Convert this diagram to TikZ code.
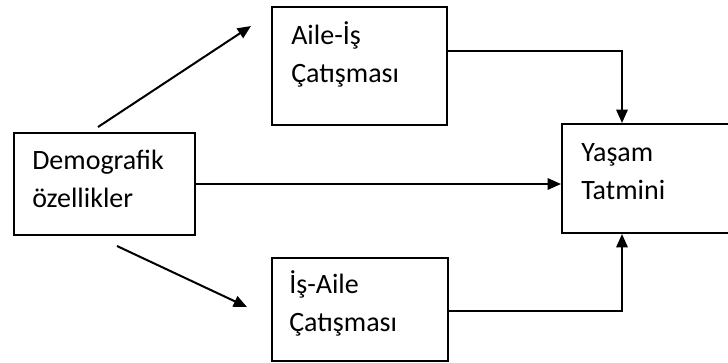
\documentclass[tikz,border=0pt]{standalone}
\usepackage{fontspec}
\setmainfont{Carlito}
\usetikzlibrary{calc,arrows.meta,positioning}

\begin{document}
\begin{tikzpicture}[
  x=0.75pt,y=-0.75pt,
  every node/.style={font=\fontsize{21}{28.5}\selectfont},
  box/.style={draw,line width=1.5pt,inner sep=0pt},
  lbl/.style={align=left,inner sep=0pt,anchor=base west},
  arr/.style={-{Triangle[length=10pt,width=8.5pt]},line width=1.5pt}
]
  \clip (0,0) rectangle (728,362);

  % Boxes (the right one runs past the edge of the page)
  \node[box,minimum width=135.75pt,minimum height=76.5pt]  (demo)  at (104.5,184) {};
  \node[box,minimum width=131.25pt,minimum height=88.5pt]  (aile)  at (359.5,66)  {};
  \node[box,minimum width=132pt,minimum height=77.25pt]    (is)    at (360,309.5) {};
  \node[box,minimum width=133.5pt,minimum height=81.75pt]  (yasam) at (651,178.5) {};

  % Texts, left aligned near the top of each box (base = last line)
  \node[lbl] (demo_txt)  at ($(demo.north west)+(19,75)$)  {Demografik\\özellikler};
  \node[lbl] (aile_txt)  at ($(aile.north west)+(20,76)$)  {Aile-İş\\Çatışması};
  \node[lbl] (is_txt)    at ($(is.north west)+(18,74)$)    {İş-Aile\\Çatışması};
  \node[lbl] (yasam_txt) at ($(yasam.north west)+(20,76)$) {Yaşam\\Tatmini};

  % Free ends of the two slanted arrows
  \coordinate (up_from)  at ($(demo.north west)+(85,-5)$);
  \coordinate (up_to)    at ($(aile.north west)+(-20,20)$);
  \coordinate (low_from) at ($(demo.south west)+(104,10)$);
  \coordinate (low_to)   at ($(is.north west)+(-24,50)$);
  \coordinate (yasam_in) at ($(yasam.north west)+(61,0)$);

  % Connectors
  \draw[arr] (up_from) -- (up_to);
  \draw[arr] (low_from) -- (low_to);
  \draw[arr] (demo.east) -- (demo.east -| yasam.west);
  \draw[arr] ($(aile.north east)+(0,45)$) -| (yasam_in);
  \draw[arr] ($(is.north east)+(0,54)$) -| (yasam_in |- yasam.south);
\end{tikzpicture}
\end{document}
